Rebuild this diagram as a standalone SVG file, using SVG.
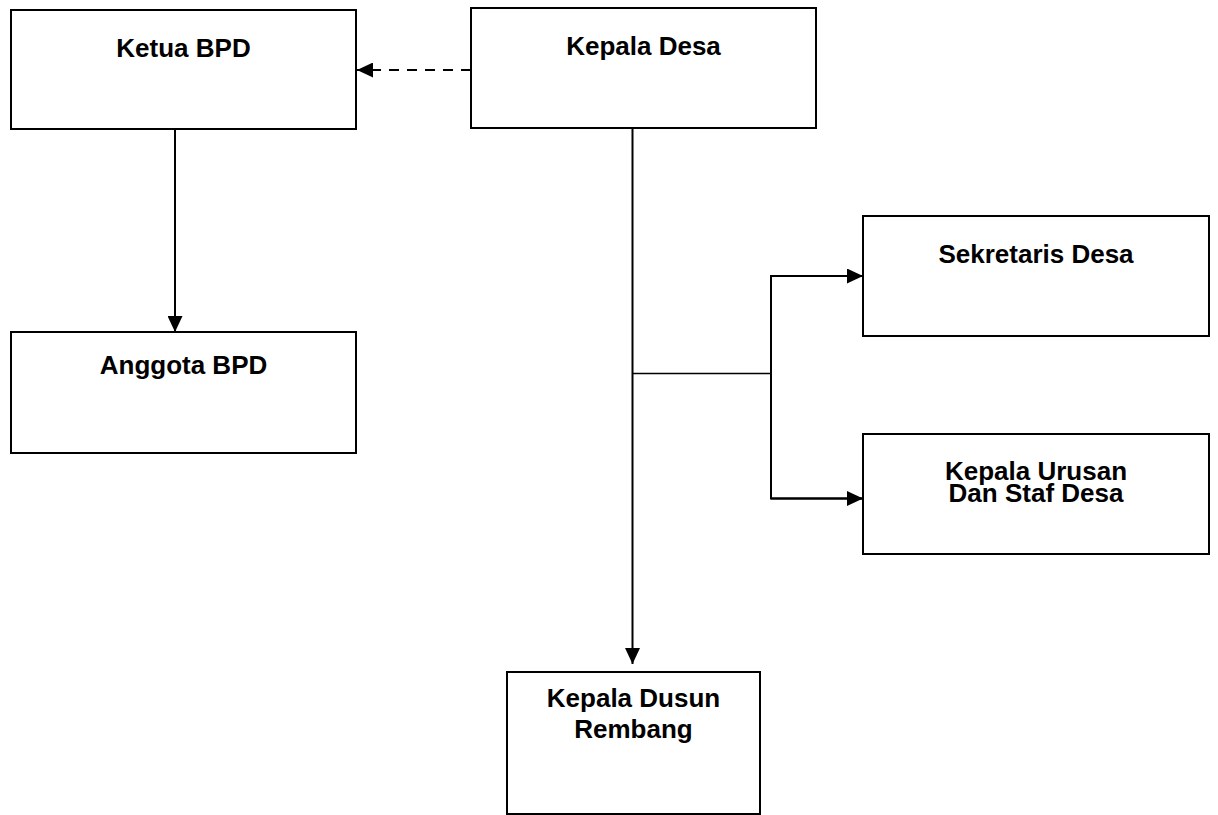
<svg xmlns="http://www.w3.org/2000/svg" width="1218" height="815" viewBox="0 0 1218 815">
<style>
.box{fill:#fff;stroke:#000;stroke-width:2}
.lbl{font-family:"Liberation Sans",Arial,sans-serif;font-weight:bold;font-size:26px;fill:#000;text-anchor:middle}
.c{fill:none;stroke:#000;stroke-width:2}
.thin{fill:none;stroke:#000;stroke-width:1.5}
.dash{fill:none;stroke:#000;stroke-width:2;stroke-dasharray:10 8}
</style>
<defs>
<marker id="ah" markerUnits="userSpaceOnUse" markerWidth="16" markerHeight="15" refX="16" refY="7.5" orient="auto">
<path d="M0,0 L16,7.5 L0,15 z" fill="#000"/>
</marker>
</defs>
<rect width="1218" height="815" fill="#fff"/>
<g id="connectors">
<line class="dash" x1="471" y1="70" x2="357" y2="70" marker-end="url(#ah)"/>
<line class="c" x1="175" y1="129" x2="175" y2="332" marker-end="url(#ah)"/>
<line class="c" x1="632.5" y1="128" x2="632.5" y2="664" marker-end="url(#ah)"/>
<line class="thin" x1="632.5" y1="373.5" x2="771" y2="373.5"/>
<polyline class="c" points="863,276 771,276 771,498.5 863,498.5"/>
<line class="c" x1="771" y1="276" x2="863" y2="276" marker-end="url(#ah)"/>
<line class="c" x1="771" y1="498.5" x2="863" y2="498.5" marker-end="url(#ah)"/>
</g>
<g id="ketua-bpd">
<rect class="box" x="11" y="10" width="345" height="119"/>
<text class="lbl" x="183.5" y="57">Ketua BPD</text>
</g>
<g id="kepala-desa">
<rect class="box" x="471" y="8" width="345" height="120"/>
<text class="lbl" x="643.5" y="55">Kepala Desa</text>
</g>
<g id="anggota-bpd">
<rect class="box" x="11" y="332" width="345" height="121"/>
<text class="lbl" x="183.5" y="374">Anggota BPD</text>
</g>
<g id="sekretaris-desa">
<rect class="box" x="863" y="216" width="346" height="120"/>
<text class="lbl" x="1036" y="263">Sekretaris Desa</text>
</g>
<g id="kepala-urusan">
<rect class="box" x="863" y="434" width="346" height="120"/>
<text class="lbl" x="1036" y="480">Kepala Urusan</text>
<text class="lbl" x="1036" y="502">Dan Staf Desa</text>
</g>
<g id="kepala-dusun">
<rect class="box" x="507" y="672" width="253" height="142"/>
<text class="lbl" x="633.5" y="707">Kepala Dusun</text>
<text class="lbl" x="633.5" y="738">Rembang</text>
</g>
</svg>
